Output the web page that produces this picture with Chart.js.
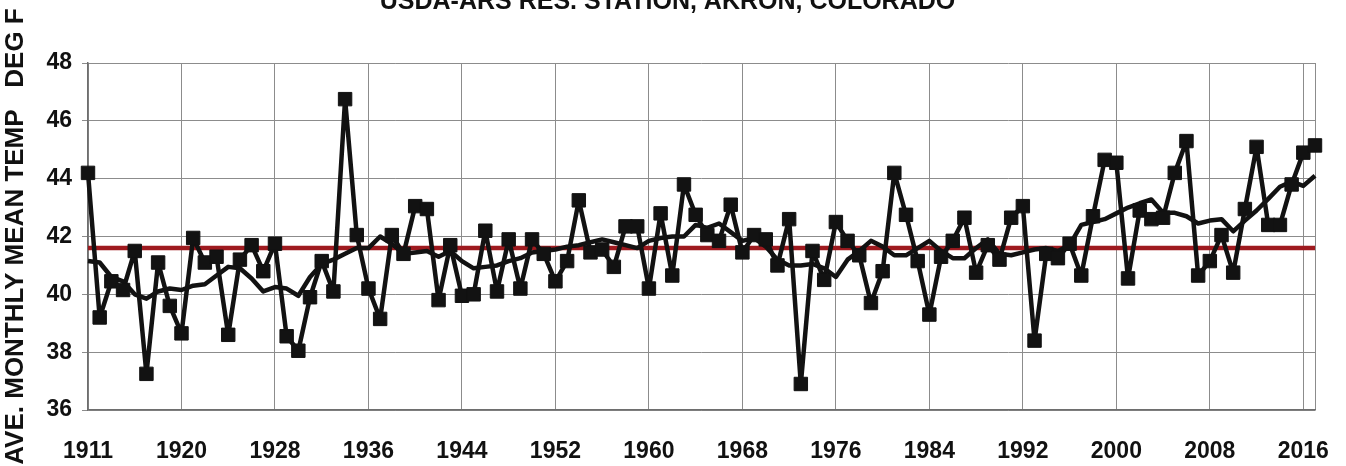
<!DOCTYPE html>
<html>
<head>
<meta charset="utf-8">
<title>Akron, Colorado - Average Monthly Mean Temperature</title>
<script src="https://cdn.jsdelivr.net/npm/chart.js@4/dist/chart.umd.min.js"></script>
<style>
  html, body { margin: 0; padding: 0; background: #ffffff; }
  #frame { position: relative; width: 1346px; height: 466px; overflow: hidden; background: #ffffff; }
  #holder { position: absolute; left: 0; top: -20px; width: 1346px; height: 486px; }
</style>
</head>
<body>
<div id="frame"><div id="holder"><canvas id="chart"></canvas></div></div>
<script>
// Station record, 1911-2016
const years = [];
for (let y = 1911; y <= 2016; y++) years.push(String(y));

// Annual average of monthly mean temperature, deg F
const meanTemp = [
  44.2, 39.2, 40.45, 40.15, 41.5, 37.25, 41.1, 39.6, 38.65, 41.95,   // 1911-1920
  41.1, 41.3, 38.6, 41.2, 41.7, 40.8, 41.75, 38.55, 38.05, 39.9,     // 1921-1930
  41.15, 40.1, 46.75, 42.05, 40.2, 39.15, 42.05, 41.4, 43.05, 42.95, // 1931-1940
  39.8, 41.7, 39.95, 40.0, 42.2, 40.1, 41.9, 40.2, 41.9, 41.4,       // 1941-1950
  40.45, 41.15, 43.25, 41.45, 41.55, 40.95, 42.35, 42.35, 40.2, 42.8, // 1951-1960
  40.65, 43.8, 42.75, 42.05, 41.85, 43.1, 41.45, 42.05, 41.9, 41.0,  // 1961-1970
  42.6, 36.9, 41.5, 40.5, 42.5, 41.85, 41.35, 39.7, 40.8, 44.2,      // 1971-1980
  42.75, 41.15, 39.3, 41.3, 41.85, 42.65, 40.75, 41.7, 41.2, 42.65,  // 1981-1990
  43.05, 38.4, 41.4, 41.25, 41.75, 40.65, 42.7, 44.65, 44.55, 40.55, // 1991-2000
  42.9, 42.6, 42.65, 44.2, 45.3, 40.65, 41.15, 42.05, 40.75, 42.95,  // 2001-2010
  45.1, 42.4, 42.4, 43.8, 44.9, 45.15                                // 2011-2016
];

// Smoothed curve through the annual values
const smoothTemp = [
  41.15, 41.1, 40.6, 40.45, 40.0, 39.85, 40.1, 40.2, 40.15, 40.3,    // 1911-1920
  40.35, 40.65, 40.95, 40.9, 40.55, 40.1, 40.25, 40.2, 39.95, 40.6,  // 1921-1930
  41.05, 41.2, 41.4, 41.6, 41.6, 42.0, 41.75, 41.4, 41.45, 41.5,     // 1931-1940
  41.3, 41.5, 41.15, 40.9, 40.95, 41.0, 41.15, 41.25, 41.45, 41.5,   // 1941-1950
  41.55, 41.65, 41.7, 41.8, 41.9, 41.8, 41.7, 41.6, 41.85, 41.95,    // 1951-1960
  42.0, 42.0, 42.4, 42.3, 42.45, 42.15, 41.85, 41.95, 41.65, 41.2,   // 1961-1970
  41.0, 41.0, 41.05, 40.9, 40.6, 41.2, 41.5, 41.85, 41.65, 41.35,    // 1971-1980
  41.35, 41.6, 41.85, 41.5, 41.25, 41.25, 41.6, 41.9, 41.4, 41.35,   // 1981-1990
  41.45, 41.55, 41.6, 41.5, 41.7, 42.4, 42.5, 42.6, 42.8, 43.0,      // 1991-2000
  43.15, 43.28, 42.82, 42.82, 42.7, 42.45, 42.55, 42.6, 42.18, 42.55, // 2001-2010
  42.9, 43.3, 43.72, 43.9, 43.75, 44.1                               // 2011-2016
];

// Long-term average line, drawn between its two end years
const averageEnds = ['1911', '2016'];
const averageValues = [41.6, 41.6];

// Labels shown every eighth year on the horizontal axis
const yearTickLabels = ['1911', '1920', '1928', '1936', '1944', '1952', '1960',
                        '1968', '1976', '1984', '1992', '2000', '2008', '2016'];

const LABEL_FONT = 'Liberation Sans, Arial, Helvetica, sans-serif';
const GRID = '#8c8c8c';

new Chart(document.getElementById('chart'), {
  type: 'line',
  data: {
    labels: years,
    datasets: [
      {
        label: 'Annual mean',
        data: meanTemp,
        borderColor: '#121212',
        backgroundColor: '#121212',
        borderWidth: 4.5,
        borderJoinStyle: 'round',
        pointStyle: 'rect',
        pointRadius: 9.5,
        pointBorderWidth: 1,
        pointBackgroundColor: '#121212',
        pointBorderColor: '#121212',
        tension: 0,
        order: 1
      },
      {
        label: 'Smoothed',
        data: smoothTemp,
        borderColor: '#121212',
        borderWidth: 4.5,
        borderJoinStyle: 'round',
        pointRadius: 0,
        tension: 0,
        order: 2
      },
      {
        label: 'Average',
        data: averageEnds.map((yr, i) => ({ x: yr, y: averageValues[i] })),
        borderColor: '#9e1a1f',
        borderWidth: 4.5,
        pointRadius: 0,
        order: 3
      }
    ]
  },
  options: {
    responsive: true,
    maintainAspectRatio: false,
    animation: false,
    events: [],
    layout: { padding: { left: 20, right: 31, top: 0, bottom: 0 } },
    plugins: {
      legend: { display: false },
      tooltip: { enabled: false },
      title: {
        display: true,
        text: 'USDA-ARS RES. STATION, AKRON, COLORADO',
        color: '#111',
        font: { family: LABEL_FONT, size: 25, weight: 'bold' },
        padding: { top: 7, bottom: 46 }
      }
    },
    scales: {
      x: {
        type: 'category',
        offset: false,
        afterFit: (scale) => { scale.height = 56; },
        grid: {
          drawTicks: false,
          lineWidth: 1,
          color: (c) => (c.index % 8 === 0 || c.index === years.length - 1) ? GRID : 'rgba(0,0,0,0)'
        },
        border: { display: true, color: '#6e6e6e', width: 1.5 },
        ticks: {
          autoSkip: false,
          maxRotation: 0,
          minRotation: 0,
          padding: 28,
          color: '#111',
          font: { family: LABEL_FONT, size: 23, weight: 'bold' },
          callback: (value, index) => index % 8 === 0 ? yearTickLabels[index / 8] : ''
        }
      },
      y: {
        min: 36,
        max: 48,
        afterFit: (scale) => { scale.width = 68; },
        grid: { color: GRID, lineWidth: 1, drawTicks: true, tickLength: 6 },
        border: { display: true, color: '#6e6e6e', width: 1.5 },
        ticks: {
          stepSize: 2,
          padding: 10,
          color: '#111',
          font: { family: LABEL_FONT, size: 23, weight: 'bold' }
        },
        title: {
          display: true,
          text: 'AVE. MONTHLY MEAN TEMP   DEG F',
          color: '#111',
          font: { family: LABEL_FONT, size: 26, weight: 'bold' },
          padding: { top: -20, bottom: 0 }
        }
      }
    }
  }
});
</script>
</body>
</html>
